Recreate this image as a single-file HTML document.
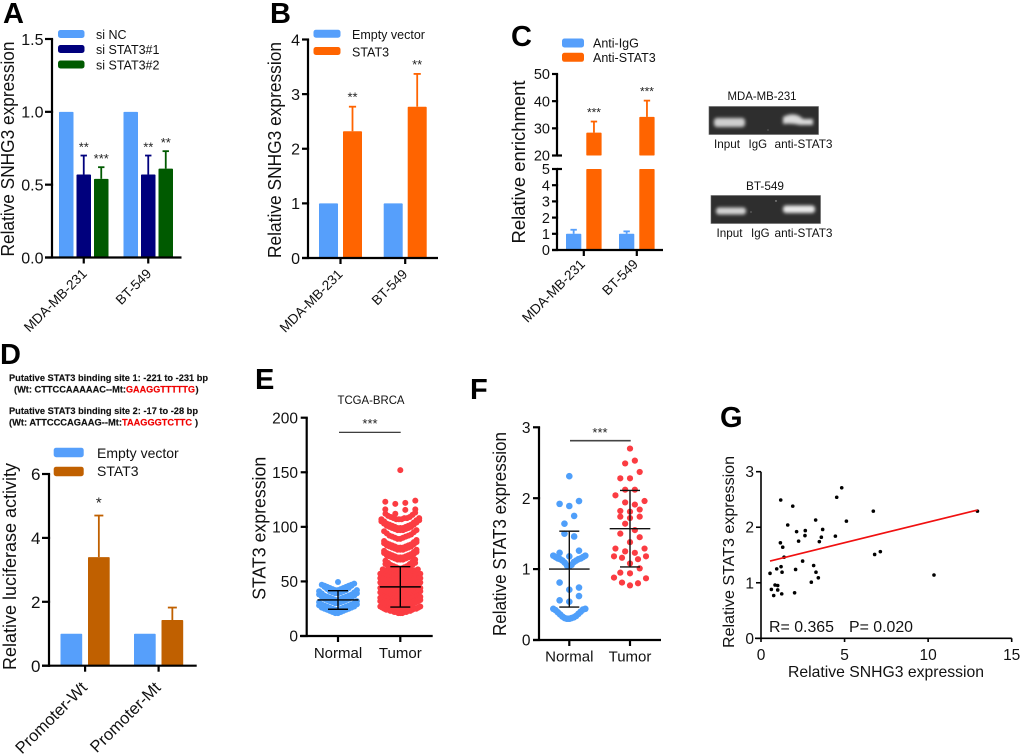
<!DOCTYPE html>
<html lang="en">
<head>
<meta charset="utf-8">
<title>STAT3 and SNHG3 expression figure</title>
<style>
  html, body { margin: 0; padding: 0; background: #fff; }
  svg { display: block; font-family: "Liberation Sans", Arial, sans-serif; filter: blur(0.3px); }
</style>
</head>
<body>
<svg id="figure" xmlns="http://www.w3.org/2000/svg" width="1020" height="754" viewBox="0 0 1020 754">
  <defs>
    <filter id="band-blur" x="-30%" y="-80%" width="160%" height="260%"><feGaussianBlur stdDeviation="1.7"/></filter>
  </defs>
  <rect width="1020" height="754" fill="#fff"/>

  <g font-weight="700" font-size="29" fill="#000">
    <text x="3" y="23">A</text>
    <text x="270" y="23">B</text>
    <text x="511" y="46">C</text>
    <text x="0" y="364">D</text>
    <text x="255" y="389">E</text>
    <text x="470" y="399">F</text>
    <text x="720" y="427">G</text>
  </g>

  <g id="panel-a"></g>
  <g id="panel-b"></g>
  <g id="panel-c"></g>
  <g id="panel-d"></g>
  <g id="panel-e"></g>
  <g id="panel-f"></g>
  <g id="panel-g"></g>

  <g>
    <text x="762" y="100" font-size="12" text-anchor="middle" textLength="69" lengthAdjust="spacingAndGlyphs" fill="#111">MDA-MB-231</text>
    <rect x="709" y="106.5" width="109.5" height="28" fill="#2e2e2e" stroke="#666" stroke-width=".6"/>
    <rect x="714" y="118" width="31" height="9" rx="3" fill="#cfcfcf" filter="url(#band-blur)"/>
    <path d="M783 117 Q795 111 803 119 L813 119 L813 125 L800 125 Q792 123 783 124 Z" fill="#dcdcdc" filter="url(#band-blur)"/>
    <circle cx="768" cy="130" r=".6" fill="#888"/>
    <text x="714" y="148" font-size="12" textLength="26" lengthAdjust="spacingAndGlyphs" fill="#111">Input</text>
    <text x="748.5" y="148" font-size="12" textLength="18.5" lengthAdjust="spacingAndGlyphs" fill="#111">IgG</text>
    <text x="774.5" y="148" font-size="12" textLength="58" lengthAdjust="spacingAndGlyphs" fill="#111">anti-STAT3</text>
  </g>
  <g>
    <text x="765" y="190" font-size="12" text-anchor="middle" textLength="38" lengthAdjust="spacingAndGlyphs" fill="#111">BT-549</text>
    <rect x="711" y="195.5" width="109.5" height="28" fill="#2e2e2e" stroke="#666" stroke-width=".6"/>
    <rect x="716" y="207.5" width="30" height="7" rx="3" fill="#d4d4d4" filter="url(#band-blur)"/>
    <rect x="783" y="205.5" width="32" height="7.5" rx="3" fill="#e8e8e8" filter="url(#band-blur)"/>
    <circle cx="776" cy="201" r=".7" fill="#bbb"/>
    <circle cx="751" cy="212" r=".6" fill="#999"/>
    <text x="716.5" y="237" font-size="12" textLength="26" lengthAdjust="spacingAndGlyphs" fill="#111">Input</text>
    <text x="751" y="237" font-size="12" textLength="18.5" lengthAdjust="spacingAndGlyphs" fill="#111">IgG</text>
    <text x="774.5" y="237" font-size="12" textLength="58" lengthAdjust="spacingAndGlyphs" fill="#111">anti-STAT3</text>
  </g>

  <g font-size="9.3" font-weight="700" fill="#111" stroke="#111" stroke-width=".15">
    <text x="9" y="381" textLength="199" lengthAdjust="spacingAndGlyphs">Putative STAT3 binding site 1: -221 to -231 bp</text>
    <text x="14" y="392.5" textLength="112" lengthAdjust="spacingAndGlyphs">(Wt: CTTCCAAAAAC--Mt:</text>
    <text x="126" y="392.5" textLength="69" lengthAdjust="spacingAndGlyphs" fill="#f00000" stroke="#f00000">GAAGGTTTTTG</text>
    <text x="195.5" y="392.5">)</text>
    <text x="9" y="414" textLength="189" lengthAdjust="spacingAndGlyphs">Putative STAT3 binding site 2: -17 to -28 bp</text>
    <text x="9" y="425.5" textLength="113" lengthAdjust="spacingAndGlyphs">(Wt: ATTCCCAGAAG--Mt:</text>
    <text x="122" y="425.5" textLength="70" lengthAdjust="spacingAndGlyphs" fill="#f00000" stroke="#f00000">TAAGGGTCTTC</text>
    <text x="195" y="425.5">)</text>
  </g>
</svg>

<script>
// ---------- Panel A ----------
const aCategories = ['MDA-MB-231', 'BT-549'];
const aSeriesNames = ['si NC', 'si STAT3#1', 'si STAT3#2'];
const aSiNc = [1, 1];
const aSiNcErr = [0, 0];
const aSi1 = [0.57, 0.57];
const aSi1Err = [0.13, 0.13];
const aSi2 = [0.54, 0.61];
const aSi2Err = [0.08, 0.12];
const aStars = [['', '**', '***'], ['', '**', '**']];
const aYTicks = [0, 0.5, 1, 1.5];
const aYLabels = ['0.0', '0.5', '1.0', '1.5'];

// ---------- Panel B ----------
const bCategories = ['MDA-MB-231', 'BT-549'];
const bSeriesNames = ['Empty vector', 'STAT3'];
const bEmpty = [1, 1];
const bEmptyErr = [0, 0];
const bStat3 = [2.32, 2.77];
const bStat3Err = [0.45, 0.6];
const bStars = [['', '**'], ['', '**']];
const bYTicks = [0, 1, 2, 3, 4];
const bYLabels = ['0', '1', '2', '3', '4'];

// ---------- Panel C ----------
const cCategories = ['MDA-MB-231', 'BT-549'];
const cSeriesNames = ['Anti-IgG', 'Anti-STAT3'];
const cIgg = [1, 1];
const cIggErr = [0.25, 0.15];
const cStat3 = [28.4, 34.2];
const cStat3Err = [4.1, 6];
const cStars = [['', '***'], ['', '***']];
const cYTicks = [0, 1, 2, 3, 4, 5, 20, 30, 40, 50];
const cYLabels = ['0', '1', '2', '3', '4', '5', '20', '30', '40', '50'];

// ---------- Panel D ----------
const dCategories = ['Promoter-Wt', 'Promoter-Mt'];
const dSeriesNames = ['Empty vector', 'STAT3'];
const dEmpty = [1, 1];
const dEmptyErr = [0, 0];
const dStat3 = [3.4, 1.43];
const dStat3Err = [1.3, 0.39];
const dStars = [['', '*'], ['', '']];
const dYTicks = [0, 2, 4, 6];
const dYLabels = ['0', '2', '4', '6'];

// ---------- Panel E ----------
const eCategories = ['Normal', 'Tumor'];
const eYTicks = [0, 50, 100, 150, 200];
const eYLabels = ['0', '50', '100', '150', '200'];
const eNormalRows = [
  [21,21,22,22,23,23,24,24,25,25,26,26,27,28,29],
  [24,24,25,25,26,26,27,27,28,28,29,29,30,31,32],
  [30,30,31,31,32,32,33,33,34,34,35,36,37,38,39],
  [33,33,34,34,35,35,36,36,37,37,38,39,40,41,42],
  [39,39,40,40,41,41,42,43,44,45,46,47,48],
  [42,42,43,43,44,44,45,45,46,46,47],
  [49.5]
];
const eTumorRows = [
  [21,21,21,22,22,22,22,23,23,23,23,24,24,24,25,25,25,26,26,27,27],
  [25,25,25,26,26,26,27,27,27,28,28,28,29,29,30,30,31,31,32,32,33],
  [28,28,28,29,29,29,30,30,30,31,31,31,32,32,33,33,34,34,35,35,36],
  [33,33,33,34,34,34,35,35,35,36,36,36,37,37,38,38,39,39,40,40,41],
  [37,37,37,37,38,38,38,39,39,39,40,40,40,41,41,42,42,43,43,44,44],
  [41,41,41,42,42,42,43,43,43,44,44,45,45,46,46,47,47,48,48,49,49],
  [45,45,45,46,46,46,47,47,47,48,48,49,49,50,50,51,51,52,52,53,53],
  [49,49,49,50,50,50,51,51,51,52,52,53,53,54,54,55,55,56,56,57,57],
  [54,54,54,55,55,55,56,56,56,57,57,57,58,58],
  [57,57,57,58,58,58,59,59,59,60,60,60,61,61],
  [59,59,60,60,61,61,62,63,64,65,66,67],
  [62,62,63,63,64,64,65,66,67,68,69,70],
  [70,70,70,71,71,72,72,73,73,74,75,76,77],
  [72,72,72,73,73,74,74,75,75,76,77,78,79],
  [79,79,79,80,80,81,81,82,82,83,84,85,86],
  [81,81,81,82,82,83,83,84,84,85,86,87,88],
  [89,89,90,90,91,91,92,92,93,94,95,96,97],
  [97,97,97,98,98,99,99,100,100,101,102,103,104,105,106],
  [99,99,99,100,100,101,101,102,102,103,104,105,106,107,108],
  [107,107,107,108,108,108,109,109,110,111,112,113],
  [112,115.6,116,116],
  [121,122,123,124],
  [152]
];
const eMeans = [33, 45];
const eSds = [8.5, 18.5];

// ---------- Panel F ----------
const fCategories = ['Normal', 'Tumor'];
const fYTicks = [0, 1, 2, 3];
const fYLabels = ['0', '1', '2', '3'];
const fNormalRows = [
  [0.30,0.30,0.31,0.31,0.32,0.33,0.34,0.36,0.37,0.39,0.40,0.42,0.43,0.44,0.44],
  [0.54,0.56,0.62],
  [0.71,0.81,0.74],
  [1.04,1.05,1.06,1.09,1.10,1.12,1.12,1.14,1.14,1.15,1.15,1.17,1.17,1.19,1.19],
  [1.18,1.23,1.26],
  [1.50,1.46],
  [1.64,1.75],
  [1.89,1.92,1.96],
  [2.31]
];
const fTumorRows = [
  [0.77,0.81,0.80,0.88,0.87],
  [0.94,0.95,1.01],
  [1.08,1.16,1.14,1.18,1.18],
  [1.25,1.23,1.29,1.29],
  [1.38,1.50,1.45],
  [1.64,1.55],
  [1.72,1.74,1.74],
  [1.81,1.82,1.84],
  [1.94,1.91,2.04,1.96],
  [2.12,2.12],
  [2.28,2.28,2.37],
  [2.49,2.53],
  [2.70]
];
const fMeans = [1.0, 1.57];
const fSds = [0.535, 0.54];

// ---------- Panel G ----------
const gXTicks = [0, 5, 10, 15];
const gYTicks = [0, 1, 2, 3];
const gSnhg3 = [0.54,0.62,0.76,0.84,0.94,1.0,1.0,1.24,1.2,1.26,1.18,1.16,1.3,1.38,1.6,1.9,2.01,2.07,2.13,2.25,2.49,2.63,2.65,3.01,3.15,3.29,3.27,3.43,3.49,3.61,3.69,4.45,4.53,4.83,5.11,6.72,6.8,7.14,10.35,12.95];
const gStat3 = [1.17,0.88,0.77,0.96,1.25,0.95,0.87,0.80,1.29,1.19,2.49,1.72,1.64,1.46,2.04,2.38,0.82,1.24,1.92,1.75,1.39,1.85,1.94,1.01,1.31,1.19,2.13,1.09,1.74,1.82,1.96,1.84,2.54,2.71,2.11,2.29,1.51,1.56,1.14,2.29];
const gFitX = [0.54, 12.95];
const gFitY = [1.39, 2.31];

// ---------- Helpers ----------
const SVGNS = 'http://www.w3.org/2000/svg';
function make(tag, attrs, parent, content) {
  const el = document.createElementNS(SVGNS, tag);
  for (const k in attrs) el.setAttribute(k, attrs[k]);
  if (content !== undefined) el.textContent = content;
  parent.appendChild(el);
  return el;
}
function linear(d0, d1, r0, r1) {
  return v => r0 + (v - d0) * (r1 - r0) / (d1 - d0);
}
function drawText(parent, name, x, y, str, fs, opts) {
  const o = opts || {};
  const attrs = { x: x, y: y, 'font-size': fs, fill: o.fill || '#111', 'text-anchor': o.anchor || 'start' };
  if (o.rot !== undefined) attrs.transform = 'rotate(' + o.rot + ' ' + x + ' ' + y + ')';
  if (o.len) { attrs.textLength = o.len; attrs.lengthAdjust = 'spacingAndGlyphs'; }
  const t = make('text', attrs, parent, str);
  
  
  return t;
}
function drawLine(parent, name, x1, y1, x2, y2, stroke, w) {
  const l = make('line', { x1: x1, y1: y1, x2: x2, y2: y2, stroke: stroke, 'stroke-width': w }, parent);
  
  
  return l;
}
function drawYAxis(g, y, ticks, labels, x, len, fs, right, sw) {
  ticks.forEach((t, i) => {
    drawLine(g, 'y-axis-tick', x - len, y(t), x + sw / 2, y(t), '#000', sw);
    drawText(g, 'y-tick-label', right, y(t) + fs * 0.36, labels[i], fs, { anchor: 'end' });
  });
}
function drawLegend(g, names, colors, rectX, rectW, rectH, rectYs, textX, textYs, fs) {
  names.forEach((n, i) => {
    const r = make('rect', { x: rectX, y: rectYs[i], width: rectW, height: rectH, rx: 2.5, fill: colors[i] }, g);
    
    
    drawText(g, 'legend-entry', textX, textYs[i], n, fs);
  });
}
function drawBars(g, cfg) {
  cfg.categories.forEach((cat, c) => {
    const gx = cfg.start + c * cfg.groupPitch;
    cfg.series.forEach((s, i) => {
      const bx = gx + i * cfg.pitch;
      const v = s.values[c];
      const segs = cfg.segments ? cfg.segments(v) : [[0, v]];
      segs.forEach(seg => {
        const top = cfg.y(seg[1]);
        const r = make('rect', { x: bx, y: top, width: cfg.barW, height: cfg.y(seg[0]) - top, fill: s.color, rx: 0.8 }, g);
        
        
      });
      const e = s.errors[c];
      const cx = bx + cfg.barW / 2;
      if (e > 0) {
        drawLine(g, 'error-bar', cx, cfg.y(v), cx, cfg.y(v + e), s.color, 1.8);
        drawLine(g, 'error-bar-cap', cx - cfg.capW, cfg.y(v + e), cx + cfg.capW, cfg.y(v + e), s.color, 1.8);
      }
      const star = cfg.stars[c][i];
      if (star) drawText(g, 'significance-stars', cx, cfg.y(v + e) - cfg.starGap, star, cfg.starFs, { anchor: 'middle', fill: '#222' });
    });
    const tx = gx + (cfg.series.length * cfg.pitch - (cfg.pitch - cfg.barW)) / 2;
    drawLine(g, 'x-axis-tick', tx, cfg.baseY, tx, cfg.baseY + 6, '#000', 2.2);
    drawText(g, 'x-tick-label', tx + cfg.labelDx, cfg.baseY + cfg.labelDy, cat, cfg.labelFs, { anchor: 'end', rot: -45 });
  });
}
function rowOffset(i, n) {
  if (n % 2 === 1) return i === 0 ? 0 : (i % 2 === 1 ? -1 : 1) * Math.ceil(i / 2);
  const k = Math.floor(i / 2) + 0.5;
  return (i % 2 === 0 ? -1 : 1) * k;
}
function drawSwarm(g, rows, cx, y, color, r, stepFn) {
  rows.forEach(row => {
    const n = row.length;
    const step = stepFn(n);
    row.forEach((v, i) => {
      const c = make('circle', { cx: cx + rowOffset(i, n) * step, cy: y(v), r: r, fill: color }, g);
      
      
    });
  });
}
function drawMeanSd(g, cx, y, mean, sd, lineHw, capHw, stroke) {
  drawLine(g, 'mean-line', cx - lineHw, y(mean), cx + lineHw, y(mean), stroke, 1.4);
  drawLine(g, 'sd-line', cx, y(mean - sd), cx, y(mean + sd), stroke, 1.4);
  drawLine(g, 'sd-cap-top', cx - capHw, y(mean + sd), cx + capHw, y(mean + sd), stroke, 1.4);
  drawLine(g, 'sd-cap-bottom', cx - capHw, y(mean - sd), cx + capHw, y(mean - sd), stroke, 1.4);
}

const BLUE = '#569ffb';

// ---------- Draw A ----------
(function () {
  const g = document.getElementById('panel-a');
  const y = linear(0, 1.5, 257.5, 39);
  const colors = [BLUE, '#00007d', '#005a00'];
  drawBars(g, {
    categories: aCategories, y: y, baseY: 257.5, start: 59, barW: 14.5, pitch: 17.5, groupPitch: 64.5, capW: 3.2,
    series: [
      { color: colors[0], values: aSiNc, errors: aSiNcErr },
      { color: colors[1], values: aSi1, errors: aSi1Err },
      { color: colors[2], values: aSi2, errors: aSi2Err }
    ],
    stars: aStars, starGap: 4, starFs: 13, labelDx: 4, labelDy: 17, labelFs: 13.6
  });
  drawLine(g, 'y-axis', 52, 39, 52, 258.5, '#000', 2.2);
  drawLine(g, 'x-axis', 45, 257.5, 181.5, 257.5, '#000', 2.2);
  drawYAxis(g, y, aYTicks, aYLabels, 52, 7, 16, 43.5, 2.2);
  drawText(g, 'y-axis-title', 14, 149, 'Relative SNHG3 expression', 18.5, { anchor: 'middle', rot: -90, len: 215 });
  drawLegend(g, aSeriesNames, colors, 58, 26.5, 8, [30, 45, 60.5], 96, [39, 54, 69.5], 12.5);
})();

// ---------- Draw B ----------
(function () {
  const g = document.getElementById('panel-b');
  const y = linear(0, 4, 258, 39.5);
  const colors = [BLUE, '#ff6400'];
  drawBars(g, {
    categories: bCategories, y: y, baseY: 258, start: 319, barW: 19, pitch: 24, groupPitch: 64.7, capW: 3.6,
    series: [
      { color: colors[0], values: bEmpty, errors: bEmptyErr },
      { color: colors[1], values: bStat3, errors: bStat3Err }
    ],
    stars: bStars, starGap: 5, starFs: 13, labelDx: 3, labelDy: 17, labelFs: 13.6
  });
  drawLine(g, 'y-axis', 308, 39.5, 308, 259, '#000', 2.2);
  drawLine(g, 'x-axis', 302, 258, 438, 258, '#000', 2.2);
  drawYAxis(g, y, bYTicks, bYLabels, 308, 6, 16, 300, 2.2);
  drawText(g, 'y-axis-title', 281, 150, 'Relative SNHG3 expression', 18.5, { anchor: 'middle', rot: -90, len: 216 });
  drawLegend(g, bSeriesNames, colors, 313.5, 27, 8, [29.7, 47], 352, [39, 56.5], 12.5);
})();

// ---------- Draw C ----------
(function () {
  const g = document.getElementById('panel-c');
  const lower = linear(0, 5, 250, 169);
  const upper = linear(20, 50, 155.5, 74);
  const y = v => (v <= 5 ? lower(v) : upper(v));
  const colors = [BLUE, '#ff6400'];
  drawBars(g, {
    categories: cCategories, y: y, baseY: 250, start: 566, barW: 15.3, pitch: 20.3, groupPitch: 53, capW: 3.2,
    series: [
      { color: colors[0], values: cIgg, errors: cIggErr },
      { color: colors[1], values: cStat3, errors: cStat3Err }
    ],
    segments: v => (v <= 5 ? [[0, v]] : [[0, 5], [20, v]]),
    stars: cStars, starGap: 5, starFs: 12, labelDx: 2, labelDy: 15, labelFs: 13.6
  });
  drawLine(g, 'y-axis-lower', 557, 169, 557, 251, '#000', 2.2);
  drawLine(g, 'y-axis-upper', 557, 74, 557, 155.5, '#000', 2.2);
  drawLine(g, 'x-axis', 552, 250, 663, 250, '#000', 2.2);
  drawYAxis(g, y, cYTicks, cYLabels, 557, 5, 14.5, 550, 2.2);
  drawLine(g, 'axis-break-cap-lower', 557, 169, 562, 169, '#000', 2.2);
  drawLine(g, 'axis-break-cap-upper', 557, 155.5, 562, 155.5, '#000', 2.2);
  drawText(g, 'y-axis-title', 525, 162, 'Relative enrichment', 18.5, { anchor: 'middle', rot: -90, len: 163 });
  drawLegend(g, cSeriesNames, colors, 562, 22, 9, [38.5, 52.8], 593, [47.5, 62], 12.5);
})();

// ---------- Draw D ----------
(function () {
  const g = document.getElementById('panel-d');
  const y = linear(0, 6, 665.7, 474);
  const colors = [BLUE, '#c06000'];
  drawBars(g, {
    categories: dCategories, y: y, baseY: 665.7, start: 60.5, barW: 21.7, pitch: 27.5, groupPitch: 73.5, capW: 4.5,
    series: [
      { color: colors[0], values: dEmpty, errors: dEmptyErr },
      { color: colors[1], values: dStat3, errors: dStat3Err }
    ],
    stars: dStars, starGap: 8, starFs: 15, labelDx: 3, labelDy: 23, labelFs: 16.5
  });
  drawLine(g, 'y-axis', 49, 474, 49, 666.7, '#000', 2.2);
  drawLine(g, 'x-axis', 42, 665.7, 196.7, 665.7, '#000', 2.2);
  drawYAxis(g, y, dYTicks, dYLabels, 49, 7, 17, 40.5, 2.2);
  drawText(g, 'y-axis-title', 16, 566.5, 'Relative luciferase activity', 18.5, { anchor: 'middle', rot: -90, len: 207 });
  drawLegend(g, dSeriesNames, colors, 53.7, 30, 9.5, [447.7, 466.7], 97, [458, 476], 14);
})();

// ---------- Draw E ----------
(function () {
  const g = document.getElementById('panel-e');
  const y = linear(0, 200, 636, 417.7);
  const x = [338, 400.3];
  const step = n => (n <= 5 ? 10 : Math.min(2.7, 40 / (n - 1)));
  drawSwarm(g, eNormalRows, x[0], y, '#4f9ffa', 3, step);
  drawSwarm(g, eTumorRows, x[1], y, '#fb3c42', 3, step);
  drawMeanSd(g, x[0], y, eMeans[0], eSds[0], 20.5, 10, '#000');
  drawMeanSd(g, x[1], y, eMeans[1], eSds[1], 20.5, 10, '#000');
  drawLine(g, 'y-axis', 306.7, 417.7, 306.7, 637, '#000', 2.2);
  drawLine(g, 'x-axis', 300, 636, 432.7, 636, '#000', 2.2);
  drawYAxis(g, y, eYTicks, eYLabels, 306.7, 6, 15.5, 298, 2.2);
  x.forEach((cx, i) => {
    drawLine(g, 'x-axis-tick', cx, 636, cx, 642, '#000', 2.2);
    drawText(g, 'x-tick-label', cx, 658, eCategories[i], 15, { anchor: 'middle' });
  });
  drawText(g, 'y-axis-title', 265.7, 528.3, 'STAT3 expression', 18.5, { anchor: 'middle', rot: -90, len: 143 });
  drawText(g, 'chart-title', 371, 404, 'TCGA-BRCA', 12, { anchor: 'middle', len: 67 });
  drawLine(g, 'significance-line', 339, 432.3, 400.7, 432.3, '#222', 1.2);
  drawText(g, 'significance-stars', 370, 428, '***', 13, { anchor: 'middle', fill: '#222' });
})();

// ---------- Draw F ----------
(function () {
  const g = document.getElementById('panel-f');
  const y = linear(0, 3, 640, 427.3);
  const x = [569.3, 630];
  const step = n => Math.min(9.7, 32 / (n - 1 || 1));
  drawSwarm(g, fNormalRows, x[0], y, '#4f9ffa', 3.3, step);
  drawSwarm(g, fTumorRows, x[1], y, '#fb3c42', 3.1, step);
  drawMeanSd(g, x[0], y, fMeans[0], fSds[0], 20.3, 10, '#111');
  drawMeanSd(g, x[1], y, fMeans[1], fSds[1], 20.3, 10, '#111');
  drawLine(g, 'y-axis', 539, 427.3, 539, 641, '#000', 2.2);
  drawLine(g, 'x-axis', 533, 640, 661, 640, '#000', 2.2);
  drawYAxis(g, y, fYTicks, fYLabels, 539, 6, 15.5, 530.5, 2.2);
  x.forEach((cx, i) => {
    drawLine(g, 'x-axis-tick', cx, 640, cx, 646, '#000', 2.2);
    drawText(g, 'x-tick-label', cx, 661.7, fCategories[i], 15, { anchor: 'middle' });
  });
  drawText(g, 'y-axis-title', 506, 534, 'Relative STAT3 expression', 18.5, { anchor: 'middle', rot: -90, len: 204 });
  drawLine(g, 'significance-line', 570, 440.7, 630.7, 440.7, '#444', 1.6);
  drawText(g, 'significance-stars', 600, 437, '***', 13, { anchor: 'middle', fill: '#222' });
})();

// ---------- Draw G ----------
(function () {
  const g = document.getElementById('panel-g');
  const x = linear(0, 15, 761, 1011.7);
  const y = linear(0, 3, 638.3, 471.7);
  drawLine(g, 'y-axis', 761, 471.7, 761, 639, '#000', 1.6);
  drawLine(g, 'x-axis', 755, 638.3, 1011.7, 638.3, '#000', 1.6);
  gYTicks.forEach(t => {
    drawLine(g, 'y-axis-tick', 756, y(t), 761, y(t), '#000', 1.6);
    drawText(g, 'y-tick-label', 754, y(t) + 5.5, String(t), 15.5, { anchor: 'end' });
  });
  gXTicks.forEach(t => {
    drawLine(g, 'x-axis-tick', x(t), 638.3, x(t), 642, '#000', 1.6);
    drawText(g, 'x-tick-label', x(t), 660, String(t), 15.5, { anchor: 'middle' });
  });
  gSnhg3.forEach((v, i) => {
    const c = make('circle', { cx: x(v), cy: y(gStat3[i]), r: 1.8, fill: '#000' }, g);
    
    
  });
  drawLine(g, 'regression-line', x(gFitX[0]), y(gFitY[0]), x(gFitX[1]), y(gFitY[1]), '#f01010', 1.7);
  drawText(g, 'x-axis-title', 886, 677, 'Relative SNHG3 expression', 16, { anchor: 'middle', len: 196 });
  drawText(g, 'y-axis-title', 734, 552, 'Relative STAT3 expression', 16, { anchor: 'middle', rot: -90, len: 192 });
  drawText(g, 'correlation-r', 769, 632, 'R= 0.365', 15.5, { len: 65 });
  drawText(g, 'correlation-p', 849, 632, 'P= 0.020', 15.5, { len: 64 });
})();
</script>
</body>
</html>
